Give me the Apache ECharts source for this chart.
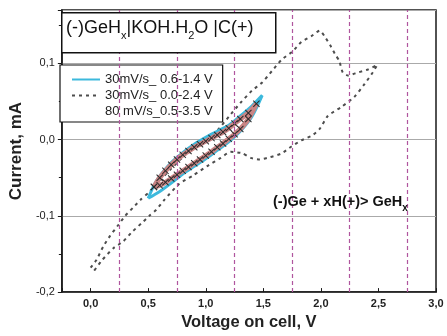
<!DOCTYPE html>
<html>
<head>
<meta charset="utf-8">
<script src="https://cdn.jsdelivr.net/npm/echarts@6/dist/echarts.min.js"></script>
<style>
  html, body { margin: 0; padding: 0; background: #fff; }
  #chart { width: 447px; height: 336px; }
</style>
</head>
<body>
<div id="chart"></div>
<script>
// 30mV/s 0.6-1.4 V  (cyan loop)
const cyanV = [0.50, 0.60, 0.70, 0.80, 0.90, 1.00, 1.10, 1.20, 1.30, 1.40, 1.49, 1.40, 1.30, 1.20, 1.10, 1.00, 0.90, 0.80, 0.70, 0.60, 0.55, 0.50]
const cyanI = [-0.077, -0.068, -0.057, -0.045, -0.035, -0.025, -0.014, -0.003, 0.011, 0.030, 0.058, 0.044, 0.031, 0.019, 0.011, 0.003, -0.006, -0.017, -0.030, -0.048, -0.060, -0.077]

// 30mV/s 0.0-2.4 V  (dotted grey loop)
const greyV = [0.00, 0.05, 0.11, 0.17, 0.24, 0.30, 0.37, 0.44, 0.50, 0.60, 0.70, 0.80, 0.90, 1.00, 1.10, 1.20, 1.30, 1.40, 1.49, 1.575, 1.66, 1.75, 1.83, 1.92, 1.99, 2.03, 2.08, 2.12, 2.16, 2.19, 2.235, 2.32, 2.41, 2.49,
  2.45, 2.38, 2.29, 2.18, 2.06, 1.99, 1.92, 1.83, 1.745, 1.66, 1.56, 1.47, 1.39, 1.32, 1.215, 1.13, 1.03, 0.89, 0.77, 0.64, 0.57, 0.51, 0.44, 0.36, 0.28, 0.20, 0.10, 0.03]
const greyI = [-0.168, -0.158, -0.140, -0.126, -0.112, -0.100, -0.089, -0.078, -0.070, -0.054, -0.038, -0.023, -0.010, 0.000, 0.012, 0.030, 0.048, 0.064, 0.075, 0.090, 0.105, 0.115, 0.128, 0.136, 0.143, 0.136, 0.124, 0.113, 0.103, 0.088, 0.084, 0.088, 0.092, 0.098,
  0.088, 0.073, 0.056, 0.043, 0.031, 0.014, 0.005, -0.001, -0.009, -0.018, -0.023, -0.026, -0.024, -0.018, -0.016, -0.024, -0.033, -0.047, -0.058, -0.079, -0.092, -0.100, -0.110, -0.121, -0.134, -0.142, -0.158, -0.172]

// 80 mV/s 0.5-3.5 V  (cross-hatched band inside the cyan loop)
const hatchV = [0.55, 0.60, 0.65, 0.70, 0.75, 0.80, 0.85, 0.90, 0.95, 1.00, 1.05, 1.10, 1.15, 1.20, 1.25, 1.30, 1.37, 1.44, 1.37, 1.30, 1.25, 1.20, 1.15, 1.10, 1.05, 1.00, 0.95, 0.90, 0.85, 0.80, 0.75, 0.70, 0.65, 0.60, 0.55]
const hatchI = [-0.062, -0.060, -0.056, -0.051, -0.046, -0.041, -0.036, -0.031, -0.026, -0.021, -0.016, -0.010, -0.005, 0.001, 0.007, 0.014, 0.027, 0.047, 0.035, 0.027, 0.021, 0.015, 0.010, 0.006, 0.002, -0.002, -0.006, -0.010, -0.015, -0.020, -0.026, -0.033, -0.041, -0.050, -0.062]

const seriesNames = ['30mV/s_ 0.6-1.4 V', '30mV/s_ 0.0-2.4 V', '80 mV/s_0.5-3.5 V']
const guideV = [0.25, 0.75, 1.25, 1.75, 2.25, 2.75]

const zip = (xs, ys) => xs.map((x, i) => [x, ys[i]])
const comma = v => (Math.round(v * 100) / 100).toFixed(1).replace('.', ',')
const font = 'Liberation Sans, Arial, sans-serif'

const chart = echarts.init(document.getElementById('chart'))
const option = {
  animation: false,
  backgroundColor: '#fff',
  textStyle: { fontFamily: font },
  grid: {
    left: 59, top: 10, width: 377, height: 291,
    show: true, borderColor: '#1a1a1a', borderWidth: 1.5, backgroundColor: 'transparent'
  },
  legend: {
    orient: 'vertical',
    left: 60, top: 65,
    padding: [8, 10, 4, 11],
    itemWidth: 28, itemHeight: 12, itemGap: 3,
    backgroundColor: '#fff',
    borderColor: '#111', borderWidth: 1.2,
    itemStyle: { opacity: 0 },
    textStyle: { fontSize: 13, color: '#222' },
    data: [
      { name: seriesNames[0] },
      { name: seriesNames[1] },
      { name: seriesNames[2], lineStyle: { opacity: 0 } }
    ]
  },
  xAxis: {
    type: 'value',
    min: -0.25, max: 3.0, interval: 0.25,
    name: 'Voltage on cell, V',
    nameLocation: 'middle', nameGap: 15,
    nameTextStyle: { fontSize: 16.5, fontWeight: 'bold', color: '#222', verticalAlign: 'top' },
    axisLine: { show: true, onZero: false, lineStyle: { color: '#1a1a1a', width: 1.5 } },
    axisTick: { show: true, inside: true, length: 4, lineStyle: { color: '#1a1a1a' } },
    axisLabel: {
      margin: 6, fontSize: 11, fontWeight: 'bold', color: '#222',
      formatter: v => (Math.abs(v * 2 - Math.round(v * 2)) < 1e-6 && v >= 0) ? comma(v) : ''
    },
    splitLine: { show: false }
  },
  yAxis: {
    type: 'value',
    min: -0.2, max: 0.17, interval: 0.1,
    name: 'Current, mA',
    nameLocation: 'middle', nameGap: 33,
    nameTextStyle: { fontSize: 17, fontWeight: 'bold', color: '#222' },
    axisLine: { show: true, onZero: false, lineStyle: { color: '#1a1a1a', width: 1.5 } },
    axisTick: { show: true, length: 4, lineStyle: { color: '#1a1a1a' } },
    minorTick: { show: true, splitNumber: 2, length: 3, lineStyle: { color: '#1a1a1a' } },
    axisLabel: { margin: 7, fontSize: 11, color: '#222', showMaxLabel: false, formatter: v => comma(v) },
    splitLine: { show: true, lineStyle: { color: '#aaaaaa', width: 1 } }
  },
  graphic: [
    {
      type: 'rect', left: 61, top: 12, z: 100,
      shape: { width: 214, height: 40 },
      style: { fill: '#fff', stroke: '#111', lineWidth: 1.5 }
    },
    {
      type: 'text', left: 66, top: 19, z: 101,
      style: {
        text: '{m|(-)GeH}{s|x}{m||KOH.H}{s|2}{m|O |C(+)}',
        rich: {
          m: { fontSize: 18, fill: '#111', fontFamily: font, verticalAlign: 'bottom', lineHeight: 22 },
          s: { fontSize: 11, fill: '#111', fontFamily: font, verticalAlign: 'bottom', lineHeight: 16, padding: [0, 0, -4, 0] }
        }
      }
    },
    {
      type: 'text', left: 273, top: 194, z: 101,
      style: {
        text: '{m|(-)Ge + xH(+)> GeH}{s|x}',
        rich: {
          m: { fontSize: 14.5, fontWeight: 'bold', fill: '#111', fontFamily: font, verticalAlign: 'bottom', lineHeight: 18 },
          s: { fontSize: 10, fontWeight: 'bold', fill: '#111', fontFamily: font, verticalAlign: 'bottom', lineHeight: 14, padding: [0, 0, -4, 0] }
        }
      }
    }
  ],
  series: [
    {
      name: seriesNames[1],
      type: 'line',
      data: zip(greyV, greyI),
      symbol: 'none',
      smooth: 0.2,
      lineStyle: { color: '#4d4d4d', width: 2, type: [3, 4] },
      itemStyle: { color: '#4d4d4d' },
      z: 2,
      markLine: {
        silent: true, symbol: 'none',
        label: { show: false },
        lineStyle: { color: '#b0559e', width: 1.2, type: [4, 3] },
        data: guideV.map(v => ({ xAxis: v }))
      }
    },
    {
      name: seriesNames[0],
      type: 'line',
      data: zip(cyanV, cyanI),
      symbol: 'none',
      smooth: 0.3,
      lineStyle: { color: '#3cb9dc', width: 3 },
      itemStyle: { color: '#3cb9dc' },
      z: 3
    },
    {
      name: seriesNames[2],
      type: 'line',
      data: zip(hatchV, hatchI),
      symbol: 'path://M0,1L1,0L5,4L9,0L10,1L6,5L10,9L9,10L5,6L1,10L0,9L4,5Z',
      symbolSize: 7,
      showAllSymbol: true,
      smooth: 0.3,
      lineStyle: { color: '#c98585', width: 5 },
      itemStyle: { color: '#2a2a2a' },
      z: 4
    }
  ]
}
chart.setOption(option)
</script>
</body>
</html>
